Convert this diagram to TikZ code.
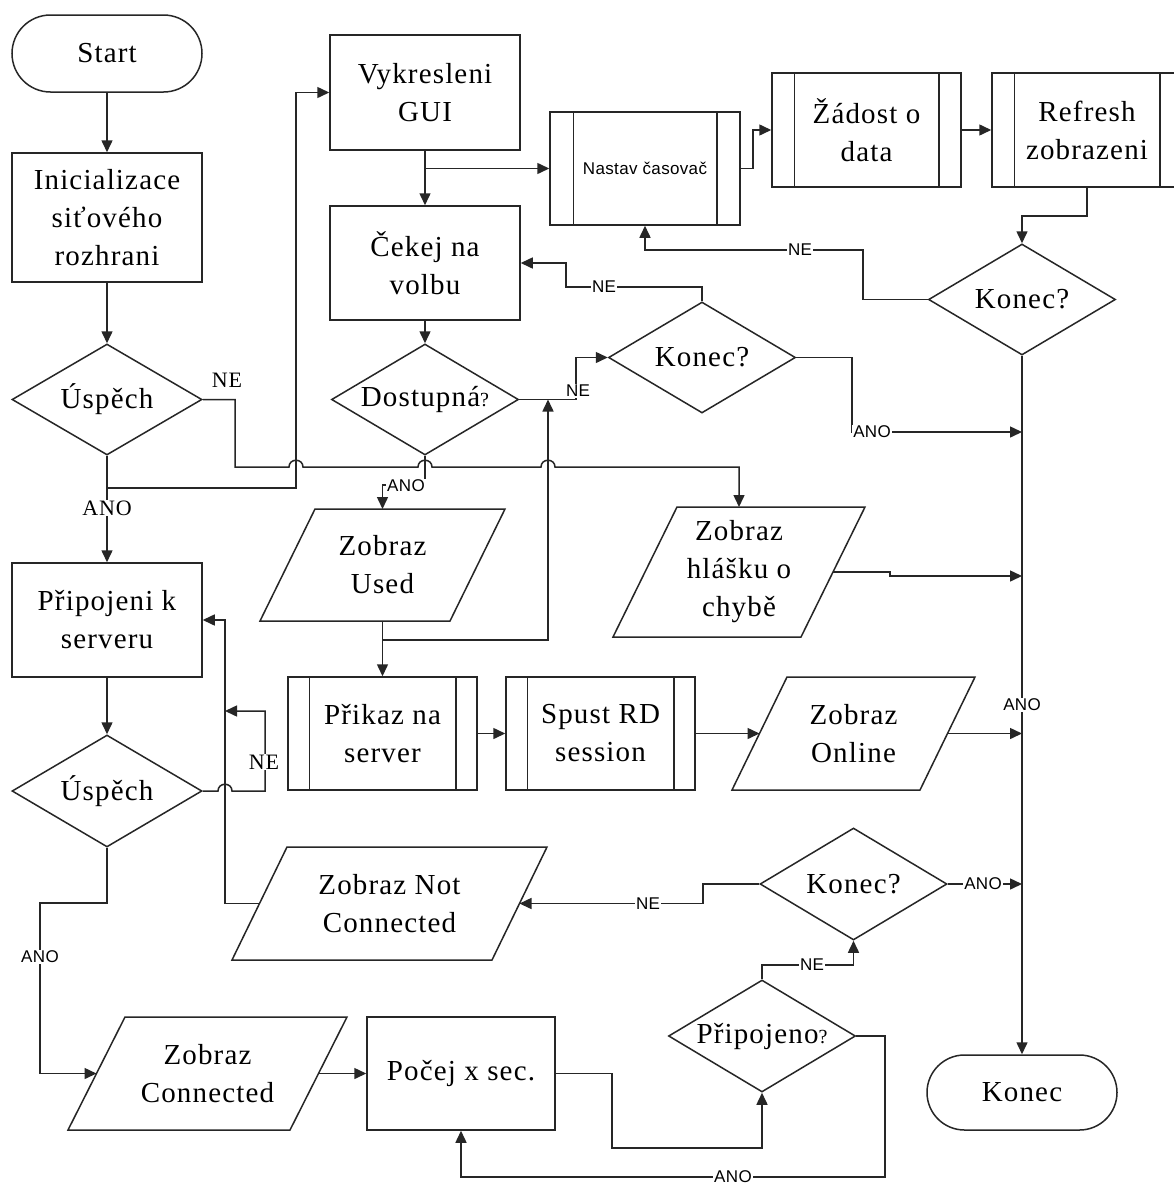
\documentclass[tikz,border=0pt]{standalone}
\usepackage{fontspec}
\setmainfont[LetterSpace=4]{Liberation Serif}
\newfontfamily\labelsans[LetterSpace=2]{Liberation Sans}
\usetikzlibrary{shapes.geometric,shapes.misc,arrows.meta}

% inner bars of a predefined-process box: node name, inset
\newcommand{\subbars}[2]{%
  \draw[wire] ([xshift=#2pt]#1.north west) -- ([xshift=#2pt]#1.south west)
              ([xshift=-#2pt]#1.north east) -- ([xshift=-#2pt]#1.south east);}
% outline of an input/output parallelogram: node name, slant
\newcommand{\slantbox}[2]{%
  \draw[wire] (#1.south west) -- ([xshift=#2pt]#1.north west) -- (#1.north east)
              -- ([xshift=-#2pt]#1.south east) -- cycle;}

\tikzset{
  wire/.style={draw=black!85, line width=1.5pt, line join=miter},
  arr/.style={wire, -{Triangle[length=12pt,width=11pt]}},
  txt/.style={font=\fontsize{29}{38}\selectfont, align=center, text=black},
  procbox/.style={txt, draw=black!85, line width=1.5pt, rectangle, inner sep=0pt,
                  minimum width=190pt, minimum height=114pt},
  decide/.style={txt, draw=black!85, line width=1.5pt, diamond, shape aspect=1.68,
                 inner sep=0pt, minimum width=187pt, minimum height=111pt},
  term/.style={txt, draw=black!85, line width=1.5pt, rounded rectangle, inner sep=0pt,
               minimum width=190pt, minimum height=77pt},
  iobox/.style={txt, rectangle, inner sep=0pt, outer sep=0pt},
  lblserif/.style={fill=white, inner sep=1pt, font=\fontsize{22}{22}\selectfont},
  lblsans/.style={fill=white, inner sep=1pt, font=\labelsans\fontsize{17}{17}\selectfont},
}

\begin{document}
\begin{tikzpicture}[x=1pt,y=-1pt]
\fill[white] (0,0) rectangle (1173,1186);
\useasboundingbox (0,0) rectangle (1173,1186);

% ---------- nodes ----------
\node[term] (start) at (107,53.5) {Start};
\node[procbox, minimum height=129pt] (init) at (107,217.5) {Inicializace\\siťového\\rozhrani};
\node[decide, minimum width=190pt] (ok1) at (107,399.5) {Úspěch};
\node[procbox, minimum height=115pt] (gui) at (425,92.5) {Vykresleni\\GUI};
\node[procbox] (choice) at (425,263) {Čekej na\\volbu};
\node[decide] (avail) at (425,399.5) {Dostupná{\fontsize{20}{20}\selectfont ?}};
\node[procbox, minimum height=113pt, font=\labelsans\fontsize{17}{17}\selectfont] (timer) at (645,168.5) {Nastav časovač};
\node[procbox, minimum width=189pt] (fetch) at (866.5,130) {Žádost o\\data};
\node[procbox] (refresh) at (1087,130) {Refresh\\zobrazeni};
\node[decide] (quit1) at (1022,299.5) {Konec?};
\node[decide] (quit2) at (702,357.5) {Konec?};
\node[iobox, minimum width=245pt, minimum height=112pt] (used) at (382.5,565) {Zobraz\\Used};
\node[iobox, minimum width=252pt, minimum height=130pt] (err) at (739,572) {Zobraz\\hlášku o\\chybě};
\node[procbox] (connect) at (107,620) {Připojeni k\\serveru};
\node[decide, minimum width=190pt, minimum height=112pt] (ok2) at (107,791) {Úspěch};
\node[procbox, minimum width=189pt, minimum height=113pt] (cmd) at (382.5,733.5) {Přikaz na\\server};
\node[procbox, minimum width=189pt, minimum height=113pt] (rd) at (600.5,733.5) {Spust RD\\session};
\node[iobox, minimum width=243pt, minimum height=113pt] (online) at (853.5,733.5) {Zobraz\\Online};
\node[iobox, minimum width=315pt, minimum height=113pt] (notconn) at (389.5,903.5) {Zobraz Not\\Connected};
\node[decide, minimum height=112pt] (quit3) at (853.5,884) {Konec?};
\node[decide, minimum height=112pt] (linked) at (762,1036) {Připojeno{\fontsize{20}{20}\selectfont ?}};
\node[procbox, minimum width=188pt, minimum height=113pt] (pause) at (461,1073.5) {Počej x sec.};
\node[iobox, minimum width=279pt, minimum height=113pt] (shown) at (207.5,1073.5) {Zobraz\\Connected};
\node[term, minimum height=75pt] (stop) at (1022,1092.5) {Konec};

\slantbox{used}{55}
\slantbox{err}{64}
\slantbox{online}{55}
\slantbox{notconn}{55}
\slantbox{shown}{57}
\subbars{timer}{24}
\subbars{fetch}{23}
\subbars{refresh}{23}
\subbars{cmd}{22}
\subbars{rd}{22}

% ---------- junctions ----------
\coordinate (j1) at (107,488);
\coordinate (j2) at (425,168.5);
\coordinate (j3) at (382.5,640);
\coordinate (j4) at (548,399.5);
\coordinate (k1) at (1022,432);
\coordinate (k2) at (1022,576);
\coordinate (k3) at (225,711);
\coordinate (k4) at (1022,884);
\coordinate (k5) at (1022,733.5);

% ---------- connectors ----------
\draw[arr] (start.south) -- (init.north);
\draw[arr] (init.south) -- (ok1.north);
\draw[arr] (ok1.south) -- (connect.north);
\draw[arr] (j1) -| (296,92.5) -- (gui.west);
\draw[arr] (ok1.east) -| (235,467) -- (289,467)
   .. controls (289,458) and (303,458) .. (303,467) -- (418,467)
   .. controls (418,458) and (432,458) .. (432,467) -- (541,467)
   .. controls (541,458) and (555,458) .. (555,467) -| (err.north);

\draw[arr] (gui.south) -- (choice.north);
\draw[arr] (j2) -- (timer.west);
\draw[arr] (timer.east) -- (753,168.5) |- (fetch.west);
\draw[arr] (fetch.east) -- (refresh.west);
\draw[arr] (refresh.south) |- (1022,216) -- (quit1.north);
\draw[arr] (quit1.west) -| (863,250) -| (timer.south);
\draw[arr] (quit1.south) -- (stop.north);

\draw[arr] (choice.south) -- (avail.north);
\draw[arr] (avail.south) -- (425,485) -- (382.5,485) -- (used.north);
\draw[arr] (avail.east) -- (576,399.5) |- (quit2.west);
\draw[arr] (used.south) -- (cmd.north);
\draw[arr] (j3) -| (j4);
\draw[arr] (quit2.north) |- (566,287) |- (choice.east);
\draw[arr] (quit2.east) -| (852,432) -- (k1);
\draw[arr] ([xshift=-32pt]err.east) -- (890,572) -- (890,576) -- (k2);

\draw[arr] (connect.south) -- (ok2.north);
\draw[arr] (ok2.east) -- (218,791) .. controls (218,782) and (232,782) .. (232,791)
   -| (265,711) -- (k3);
\draw[arr] ([xshift=27.5pt]notconn.west) -- (225,903.5) |- (connect.east);
\draw[arr] (ok2.south) |- (40,903) |- ([xshift=28.5pt]shown.west);
\draw[arr] ([xshift=-28.5pt]shown.east) -- (pause.west);
\draw[arr] (pause.east) -| (612,1148) -| (linked.south);
\draw[arr] (linked.north) |- (853.5,965) -- (quit3.south);
\draw[arr] (linked.east) -| (885,1177) -| (pause.south);
\draw[arr] (quit3.west) -| (703,903.5) -- ([xshift=-27.5pt]notconn.east);
\draw[arr] (quit3.east) -- (k4);

\draw[arr] (cmd.east) -- (rd.west);
\draw[arr] (rd.east) -- ([xshift=27.5pt]online.west);
\draw[arr] ([xshift=-27.5pt]online.east) -- (k5);

% ---------- branch labels ----------
\node[lblserif] (l1) at (107,508) {ANO};
\node[lblserif, fill=none] (l2) at (227,380) {NE};
\node[lblsans] (l3) at (800,250) {NE};
\node[lblsans] (l4) at (406,486) {ANO};
\node[lblsans] (l5) at (578,391) {NE};
\node[lblsans] (l6) at (604,287) {NE};
\node[lblsans] (l7) at (872,432) {ANO};
\node[lblserif] (l8) at (264,762) {NE};
\node[lblsans] (l9) at (40,957) {ANO};
\node[lblsans] (l10) at (812,965) {NE};
\node[lblsans] (l11) at (733,1177) {ANO};
\node[lblsans] (l12) at (648,903.5) {NE};
\node[lblsans] (l13) at (983,884) {ANO};
\node[lblsans] (l14) at (1022,705) {ANO};
\end{tikzpicture}
\end{document}
